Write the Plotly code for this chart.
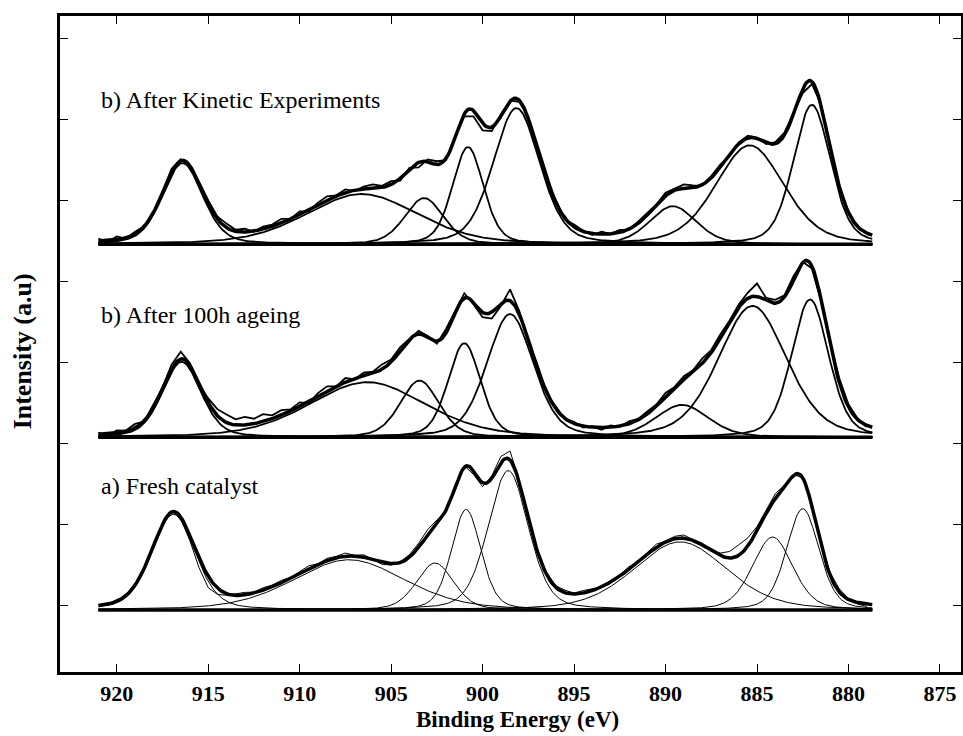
import numpy as np
import plotly.graph_objects as go

# binding energy grid of the measured spectra (eV)
energy = np.arange(921.0, 878.99, -0.5)

# fitted components per spectrum: centre (eV), height (a.u.), FWHM (eV)
fresh_pos = [916.9, 907.3, 902.6, 900.9, 898.6, 889.2, 884.15, 882.5]
fresh_amp = [1.18, 0.62, 0.58, 1.24, 1.72, 0.84, 0.90, 1.25]
fresh_fwhm = [2.8, 7.2, 2.4, 1.9, 2.6, 6.0, 2.6, 2.1]

age_pos = [916.45, 906.3, 903.45, 901.0, 898.5, 889.1, 885.25, 882.1]
age_amp = [0.93, 0.68, 0.70, 1.16, 1.52, 0.40, 1.62, 1.70]
age_fwhm = [2.5, 7.5, 2.5, 2.1, 3.0, 3.4, 4.4, 2.4]

kin_pos = [916.4, 906.6, 903.2, 900.8, 898.15, 889.6, 885.4, 882.0]
kin_amp = [1.00, 0.62, 0.57, 1.20, 1.68, 0.47, 1.22, 1.72]
kin_fwhm = [2.6, 7.2, 2.5, 2.0, 3.0, 3.0, 4.4, 2.4]

# baseline level of each spectrum (offset on the intensity axis)
offsets = [-0.05, 2.08, 4.46]

# residual of the measured data around the fitted envelope
fresh_resid = [
    0.01, -0.02, 0.02, -0.01, 0.02, 0.01, -0.01, 0.02, 0.01, -0.02,
    -0.06, -0.12, -0.14, -0.08, -0.02, 0.02, 0.03, 0.01, 0.03, 0.02,
    0.03, 0.01, 0.02, 0.04, 0.01, 0.03, 0.02, 0.04, 0.01, 0.03,
    0.00, -0.03, -0.02, 0.01, 0.03, 0.05, 0.07, 0.05, -0.02, -0.04,
    0.02, -0.04, -0.05, 0.03, 0.08, 0.11, 0.02, -0.01, 0.02, 0.03,
    0.02, 0.03, 0.01, 0.03, 0.02, 0.00, 0.02, 0.01, 0.03, -0.01,
    0.02, 0.04, 0.01, 0.03, 0.04, 0.01, 0.02, -0.01, 0.03, 0.08,
    0.13, 0.10, 0.05, 0.04, 0.06, 0.02, 0.01, 0.00, 0.02, 0.03,
    0.03, 0.04, 0.01, -0.02, -0.03,
]
age_resid = [
    0.02, -0.03, 0.03, 0.01, 0.05, -0.01, 0.04, 0.02, 0.06, 0.09,
    0.03, -0.02, 0.05, 0.08, 0.10, 0.07, 0.10, 0.06, 0.09, 0.04,
    0.06, 0.02, 0.05, -0.02, 0.04, 0.06, 0.00, 0.05, -0.01, 0.04,
    0.02, 0.06, 0.03, 0.05, 0.01, 0.04, 0.02, -0.03, 0.05, 0.03,
    0.06, -0.02, -0.06, -0.08, -0.03, 0.14, 0.04, -0.02, 0.03, -0.02,
    0.03, -0.01, 0.02, -0.02, 0.01, -0.03, 0.02, -0.01, 0.03, 0.01,
    0.03, 0.02, 0.05, 0.01, 0.04, 0.02, 0.06, 0.03, 0.05, 0.02,
    0.04, 0.07, 0.16, 0.03, 0.04, 0.02, 0.05, 0.01, -0.03, -0.02,
    0.02, 0.05, 0.03, 0.01, -0.02,
]
kin_resid = [
    0.03, -0.02, 0.04, -0.01, 0.03, 0.00, -0.02, 0.03, 0.05, 0.02,
    -0.01, 0.02, 0.04, 0.03, 0.05, 0.02, 0.04, -0.01, 0.03, 0.02,
    0.05, 0.00, 0.04, -0.02, 0.03, 0.05, 0.01, 0.04, -0.01, 0.03,
    0.05, 0.02, 0.04, -0.03, 0.02, -0.06, 0.03, 0.04, -0.02, 0.02,
    -0.03, -0.07, -0.09, -0.05, 0.02, 0.01, -0.02, 0.03, -0.01, 0.02,
    0.03, -0.02, 0.03, 0.01, -0.02, 0.03, 0.00, 0.03, -0.01, 0.02,
    0.03, 0.01, 0.04, 0.02, 0.05, 0.03, -0.01, 0.02, 0.03, -0.02,
    0.02, 0.03, 0.01, -0.02, 0.02, 0.03, 0.01, -0.05, -0.03, 0.02,
    0.01, -0.02, 0.02, 0.00, -0.01,
]

labels = ["a) Fresh catalyst", "b) After 100h ageing", "b) After Kinetic Experiments"]
label_y = [1.48, 3.59, 6.24]

ETA = 0.3  # lorentzian fraction of the fitted line shape
fine = np.linspace(921.0, 878.7, 600)


def peak(x, c, a, w):
    s = w / 2.3548
    g = np.exp(-(x - c) ** 2 / (2 * s * s))
    l = 1 / (1 + ((x - c) / (w / 2)) ** 2)
    return a * ((1 - ETA) * g + ETA * l)


fig = go.Figure()
sets = [
    (fresh_pos, fresh_amp, fresh_fwhm, fresh_resid, 1.0, 1.0),
    (age_pos, age_amp, age_fwhm, age_resid, 1.8, 1.8),
    (kin_pos, kin_amp, kin_fwhm, kin_resid, 1.8, 1.8),
]
for k, (pos, amp, fw, res, cw, dw) in enumerate(sets):
    off = offsets[k]
    env_fine = np.zeros_like(fine)
    env_grid = np.zeros_like(energy)
    for c, a, w in zip(pos, amp, fw):
        comp = peak(fine, c, a, w)
        env_fine += comp
        env_grid += peak(energy, c, a, w)
        fig.add_trace(go.Scatter(x=fine, y=comp + off, mode="lines",
                                 line=dict(color="black", width=cw)))
    # measured data
    fig.add_trace(go.Scatter(x=energy, y=env_grid + np.array(res) + off, mode="lines",
                             line=dict(color="black", width=dw)))
    # envelope
    fig.add_trace(go.Scatter(x=fine, y=env_fine + off, mode="lines",
                             line=dict(color="black", width=3.5)))
    # baseline
    fig.add_trace(go.Scatter(x=[921.0, 878.7], y=[off, off], mode="lines",
                             line=dict(color="black", width=3.5)))
    fig.add_annotation(x=920.95, y=label_y[k], text=labels[k], showarrow=False,
                       xanchor="left", yanchor="middle",
                       font=dict(family="Liberation Serif", size=24, color="black"))

# axis titles
fig.add_annotation(x=0.508, y=-0.073, xref="paper", yref="paper", showarrow=False,
                   text="<b>Binding Energy (eV)</b>", xanchor="center", yanchor="middle",
                   font=dict(family="Liberation Serif", size=23, color="black"))
fig.add_annotation(x=-0.042, y=0.489, xref="paper", yref="paper", showarrow=False,
                   text="<b>Intensity (a.u)</b>", textangle=-90,
                   xanchor="center", yanchor="middle",
                   font=dict(family="Liberation Serif", size=26, color="black"))

fig.update_layout(
    width=963, height=736,
    margin=dict(l=60, r=2, t=16, b=64),
    plot_bgcolor="white", paper_bgcolor="white",
    showlegend=False,
    font=dict(family="Liberation Serif", color="black"),
)
fig.update_xaxes(
    range=[923.1, 873.85], tickvals=[920, 915, 910, 905, 900, 895, 890, 885, 880, 875],
    ticks="inside", ticklen=8, tickwidth=1, tickcolor="black",
    showline=True, linewidth=3, linecolor="black", mirror="ticks",
    showgrid=False, zeroline=False, automargin=False,
    tickfont=dict(family="Liberation Serif", size=22, color="black", weight="bold"),
)
fig.update_yaxes(
    range=[-0.814, 7.275], tickvals=[0, 1, 2, 3, 4, 5, 6, 7], showticklabels=False,
    ticks="inside", ticklen=8, tickwidth=1, tickcolor="black",
    showline=True, linewidth=3, linecolor="black", mirror="ticks",
    showgrid=False, zeroline=False, automargin=False,
)

fig.write_html("out.html", config={"displayModeBar": False},
               post_script="document.body.style.margin='0';document.body.style.overflow='hidden';")
